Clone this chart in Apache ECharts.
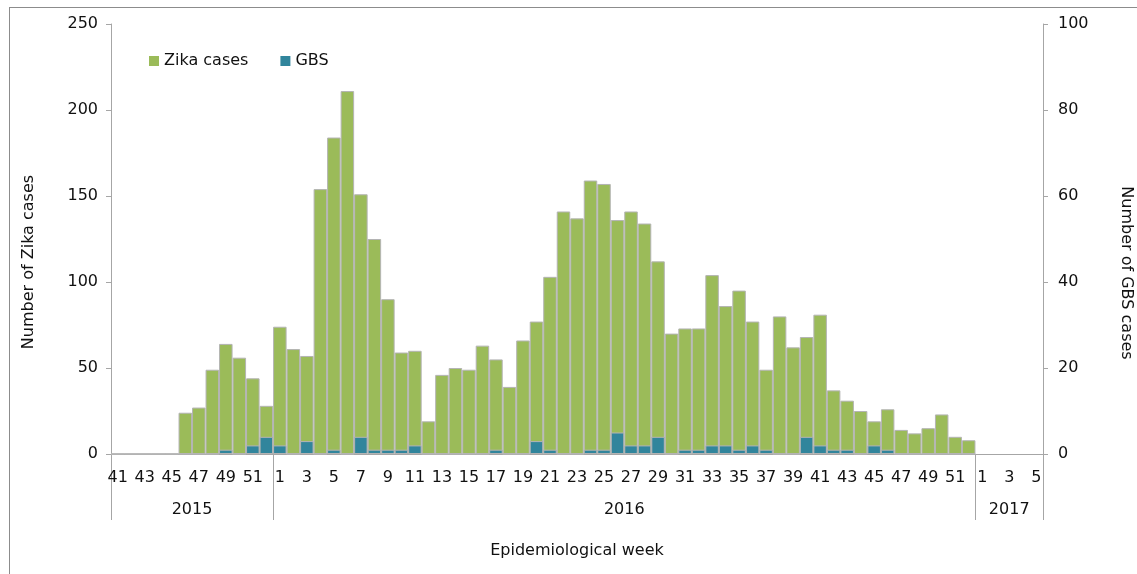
<!DOCTYPE html>
<html><head><meta charset="utf-8">
<script src="https://cdn.jsdelivr.net/npm/echarts@6/dist/echarts.min.js"></script>
<style>
html,body{margin:0;padding:0;width:1137px;height:574px;overflow:hidden;background:#fff;}
#frame{position:absolute;left:9px;top:7px;width:1300px;height:800px;border:1px solid #8c8c8c;box-sizing:border-box;}
#chart{position:absolute;left:0;top:0;width:1137px;height:574px;}
</style></head><body>
<div id="frame"></div>
<div id="chart"></div>
<script>
// ---- data ----
const years = ['2015', '2016', '2017'];
const weeks2015 = [41,42,43,44,45,46,47,48,49,50,51,52];
const weeks2016 = [1,2,3,4,5,6,7,8,9,10,11,12,13,14,15,16,17,18,19,20,21,22,23,24,25,26,27,28,29,30,31,32,33,34,35,36,37,38,39,40,41,42,43,44,45,46,47,48,49,50,51,52];
const weeks2017 = [1,2,3,4,5];
const zika2015 = [0,0,0,0,0,24,27,49,64,56,44,28];
const zika2016 = [74,61,57,154,184,211,151,125,90,59,60,19,46,50,49,63,55,39,66,77,103,141,137,159,157,136,141,134,112,70,73,73,104,86,95,77,49,80,62,68,81,37,31,25,19,26,14,12,15,23,10,8];
const zika2017 = [null,null,null,null,null];
const gbs2015 = [0,0,0,0,0,0,0,0,1,0,2,4];
const gbs2016 = [2,0,3,0,1,0,4,1,1,1,2,0,0,0,0,0,1,0,0,3,1,0,0,1,1,5,2,2,4,0,1,1,2,2,1,2,1,0,0,4,2,1,1,0,2,1,0,0,0,0,0,0];
const gbs2017 = [null,null,null,null,null];
const zikaTicks = [0,50,100,150,200,250];
const gbsTicks = [0,20,40,60,80,100];

// ---- derived ----
const weekGroups = [weeks2015, weeks2016, weeks2017];
const weekLabels = [].concat(...weekGroups);
const categories = [];
weekGroups.forEach((g, gi) => g.forEach(w => categories.push(years[gi] + '-' + w)));
const zika = [].concat(zika2015, zika2016, zika2017);
const gbs = [].concat(gbs2015, gbs2016, gbs2017);
const bounds = [0];
weekGroups.forEach(g => bounds.push(bounds[bounds.length - 1] + g.length));
const mids = weekGroups.map((g, i) => bounds[i] + g.length / 2);

const FONT = 'DejaVu Sans';
const TXT = '#111';
const AX = '#a6a6a6';
const txt = {fontFamily: FONT, fontSize: 16, color: TXT};

const chart = echarts.init(document.getElementById('chart'), null, {renderer: 'canvas'});
chart.setOption({
  animation: false,
  backgroundColor: 'transparent',
  grid: {left: 111, right: 94, top: 24, bottom: 120, containLabel: false, outerBoundsMode: 'none'},
  legend: {
    left: 144, top: 48, itemWidth: 10, itemHeight: 10, itemGap: 32, icon: 'rect',
    itemStyle: {borderWidth: 0},
    textStyle: txt, data: ['Zika cases', 'GBS']
  },
  xAxis: [
    {
      type: 'category', data: categories, boundaryGap: true, position: 'bottom',
      axisLine: {show: true, onZero: false, lineStyle: {color: AX, width: 1}},
      axisTick: {show: false},
      axisLabel: Object.assign({
        interval: (i) => weekLabels[i] % 2 === 1,
        formatter: (v) => v.split('-')[1],
        margin: 16
      }, txt),
      splitLine: {show: false},
      name: 'Epidemiological week', nameLocation: 'middle', nameGap: 89,
      nameTextStyle: txt
    },
    {
      type: 'value', min: 0, max: bounds[bounds.length - 1], position: 'bottom',
      axisLine: {show: false, onZero: false},
      axisTick: {show: true, customValues: bounds, length: 66, lineStyle: {color: AX, width: 1}},
      axisLabel: Object.assign({
        customValues: mids,
        formatter: (v) => years[mids.indexOf(v)],
        margin: 48
      }, txt),
      splitLine: {show: false}
    }
  ],
  yAxis: [
    {
      type: 'value', min: zikaTicks[0], max: zikaTicks[zikaTicks.length - 1], interval: zikaTicks[1] - zikaTicks[0],
      position: 'left',
      axisLine: {show: true, onZero: false, lineStyle: {color: AX, width: 1}},
      axisTick: {show: true, length: 5, lineStyle: {color: AX}},
      axisLabel: Object.assign({margin: 13}, txt),
      splitLine: {show: false},
      name: 'Number of Zika cases', nameLocation: 'middle', nameRotate: 90, nameGap: 74,
      nameTextStyle: Object.assign({padding: [0, 46, 0, 0]}, txt)
    },
    {
      type: 'value', min: gbsTicks[0], max: gbsTicks[gbsTicks.length - 1], interval: gbsTicks[1] - gbsTicks[0],
      position: 'right',
      axisLine: {show: true, onZero: false, lineStyle: {color: AX, width: 1}},
      axisTick: {show: true, length: 5, lineStyle: {color: AX}},
      axisLabel: Object.assign({margin: 15}, txt),
      splitLine: {show: false},
      name: 'Number of GBS cases', nameLocation: 'middle', nameRotate: -90, nameGap: 75,
      nameTextStyle: Object.assign({padding: [0, 0, 0, 68]}, txt)
    }
  ],
  series: [
    {
      name: 'Zika cases', type: 'bar', data: zika, xAxisIndex: 0, yAxisIndex: 0,
      barCategoryGap: '0%', barGap: '-100%',
      itemStyle: {color: '#9bbb59', borderColor: '#b4b4b4', borderWidth: 1}
    },
    {
      name: 'GBS', type: 'bar', data: gbs, xAxisIndex: 0, yAxisIndex: 1,
      barCategoryGap: '0%', barGap: '-100%',
      itemStyle: {color: '#31859c', borderColor: '#b4b4b4', borderWidth: 1}
    }
  ]
});
</script>
</body></html>
